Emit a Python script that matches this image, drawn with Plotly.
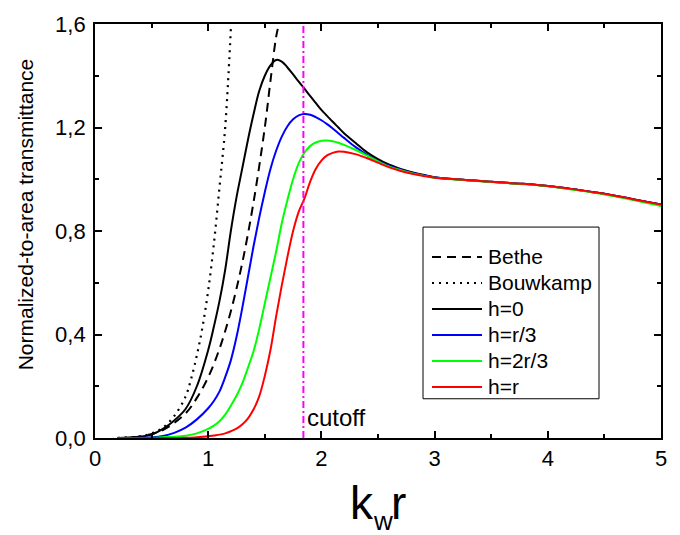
import plotly.graph_objects as go

# ---- data ----
x_bethe = [0.2, 0.4, 0.6, 0.8, 0.9, 1.0, 1.1, 1.2, 1.3, 1.4, 1.5, 1.55, 1.6, 1.625]
y_bethe = [0.0004, 0.006, 0.031, 0.095, 0.155, 0.235, 0.345, 0.49, 0.675, 0.91, 1.20, 1.38, 1.55, 1.60]

x_bouw = [0.2, 0.3, 0.4, 0.5, 0.6, 0.7, 0.8, 0.85, 0.9, 0.95, 1.0, 1.05, 1.1, 1.15, 1.2]
y_bouw = [0.0005, 0.002, 0.006, 0.018, 0.040, 0.085, 0.16, 0.23, 0.32, 0.43, 0.57, 0.75, 0.97, 1.20, 1.58]

x_h = [0.2, 0.3, 0.4, 0.5, 0.6, 0.7, 0.8, 0.9, 1.0, 1.05, 1.1, 1.15, 1.2, 1.25, 1.3, 1.35, 1.4, 1.45,
       1.5, 1.55, 1.6, 1.65, 1.7, 1.75, 1.8, 1.85, 1.9, 1.95, 2.0, 2.05, 2.1, 2.15, 2.2, 2.3, 2.4, 2.5,
       2.6, 2.7, 2.8, 2.9, 3.0, 3.25, 3.5, 3.75, 4.0, 4.25, 4.5, 4.75, 5.0]

y_h0 = [0.000, 0.002, 0.005, 0.013, 0.035, 0.068, 0.112, 0.20, 0.34, 0.43, 0.53, 0.65, 0.80, 0.93, 1.04,
        1.15, 1.25, 1.34, 1.40, 1.44, 1.461, 1.455, 1.432, 1.405, 1.377, 1.35, 1.322, 1.295, 1.268,
        1.245, 1.222, 1.20, 1.178, 1.141, 1.105, 1.078, 1.056, 1.040, 1.027, 1.017, 1.008, 0.998,
        0.990, 0.983, 0.974, 0.960, 0.944, 0.923, 0.902]

y_hr3 = [0.000, 0.000, 0.001, 0.003, 0.008, 0.020, 0.040, 0.072, 0.115, 0.143, 0.18, 0.235, 0.30, 0.39,
         0.50, 0.62, 0.74, 0.85, 0.95, 1.04, 1.11, 1.165, 1.205, 1.232, 1.247, 1.252, 1.249, 1.24,
         1.228, 1.213, 1.196, 1.178, 1.16, 1.125, 1.095, 1.070, 1.051, 1.037, 1.025, 1.016, 1.008,
         0.998, 0.990, 0.983, 0.974, 0.960, 0.944, 0.923, 0.902]

y_h2r3 = [0.000, 0.000, 0.000, 0.001, 0.003, 0.005, 0.009, 0.018, 0.035, 0.048, 0.065, 0.09, 0.125, 0.163,
          0.21, 0.27, 0.334, 0.42, 0.52, 0.62, 0.72, 0.83, 0.92, 1.00, 1.062, 1.103, 1.128, 1.142,
          1.149, 1.150, 1.147, 1.141, 1.133, 1.114, 1.092, 1.069, 1.049, 1.035, 1.023, 1.014, 1.006,
          0.997, 0.989, 0.982, 0.973, 0.958, 0.941, 0.920, 0.897]

y_hr = [0.000, 0.000, 0.000, 0.000, 0.000, 0.000, 0.001, 0.003, 0.007, 0.010, 0.013, 0.018, 0.026, 0.036,
        0.052, 0.075, 0.11, 0.16, 0.24, 0.34, 0.47, 0.59, 0.70, 0.80, 0.875, 0.925, 0.99, 1.04,
        1.072, 1.092, 1.102, 1.107, 1.106, 1.097, 1.082, 1.064, 1.046, 1.032, 1.021, 1.013, 1.006,
        0.998, 0.990, 0.983, 0.974, 0.960, 0.944, 0.923, 0.902]

cutoff_x = 1.841

x_ticks = [0, 1, 2, 3, 4, 5]
y_ticks = [0.0, 0.4, 0.8, 1.2, 1.6]

FONT = "Liberation Sans, Arial, sans-serif"

# plot area in pixels (for legend / title placement in paper coordinates)
L, R, T, B = 95, 661, 16, 438
def px(xp):
    return (xp - L) / (R - L)
def py(yp):
    return (B - yp) / (B - T)

series = [
    ("Bethe", x_bethe, y_bethe, "black", "9px,6px", 2.0),
    ("Bouwkamp", x_bouw, y_bouw, "black", "2px,5px", 2.2),
    ("h=0", x_h, y_h0, "black", "solid", 2.0),
    ("h=r/3", x_h, y_hr3, "#0000FF", "solid", 2.0),
    ("h=2r/3", x_h, y_h2r3, "#00FF00", "solid", 2.0),
    ("h=r", x_h, y_hr, "#FF0000", "solid", 2.0),
]

fig = go.Figure()
for name, xs, ys, col, dash, w in series:
    fig.add_trace(go.Scatter(x=xs, y=ys, mode="lines", name=name, showlegend=False,
                             line=dict(color=col, width=w, dash=dash, shape="spline")))

# cutoff line + label
fig.add_shape(type="line", x0=cutoff_x, x1=cutoff_x, y0=0, y1=1.6, xref="x", yref="y",
              line=dict(color="#FF00FF", width=2, dash="7px,3px,2px,3px"))
fig.add_annotation(x=cutoff_x, y=0, xref="x", yref="y", text="cutoff", showarrow=False,
                   xanchor="left", yanchor="bottom", xshift=2, yshift=5,
                   font=dict(family=FONT, size=24, color="black"))

# legend drawn as a framed box
fig.add_shape(type="rect", xref="paper", yref="paper", x0=px(423), x1=px(599), y0=py(398), y1=py(223),
              line=dict(color="black", width=1), fillcolor="white", layer="above")
leg_y0, leg_dy = 253.5, 26.5
for i, (name, xs, ys, col, dash, w) in enumerate(series):
    yy = py(leg_y0 + i * leg_dy)
    fig.add_shape(type="line", xref="paper", yref="paper", x0=px(432), x1=px(482), y0=yy, y1=yy,
                  line=dict(color=col, width=w, dash=dash), layer="above")
    fig.add_annotation(x=px(486), y=yy, xref="paper", yref="paper", text=name, showarrow=False,
                       xanchor="left", yanchor="middle",
                       font=dict(family=FONT, size=21, color="black"))

# axis titles
fig.add_annotation(x=px(348), y=py(504), xref="paper", yref="paper", text="k", showarrow=False,
                   xanchor="left", yanchor="middle", font=dict(family=FONT, size=46, color="black"))
fig.add_annotation(x=px(371), y=py(523), xref="paper", yref="paper", text="w", showarrow=False,
                   xanchor="left", yanchor="middle", font=dict(family=FONT, size=26, color="black"))
fig.add_annotation(x=px(389), y=py(504), xref="paper", yref="paper", text="r", showarrow=False,
                   xanchor="left", yanchor="middle", font=dict(family=FONT, size=46, color="black"))
fig.add_annotation(x=px(25), y=py(210), xref="paper", yref="paper",
                   text="Normalized-to-area transmittance", textangle=-90, showarrow=False,
                   xanchor="center", yanchor="middle",
                   font=dict(family=FONT, size=21, color="black"))

axis_common = dict(showgrid=False, zeroline=False, showline=True, linecolor="black", linewidth=1.8,
                   mirror="ticks", ticks="inside", ticklen=7, tickwidth=1.5, tickcolor="black",
                   tickfont=dict(family=FONT, size=22, color="black"))

fig.update_xaxes(range=[0, 5], tickvals=x_ticks, ticktext=[str(v) for v in x_ticks],
                 minor=dict(dtick=0.5, ticks="inside", ticklen=4, tickwidth=1.5, tickcolor="black"),
                 **axis_common)
fig.update_yaxes(range=[0, 1.6], tickvals=y_ticks, ticktext=[f"{v:.1f}".replace(".", ",") for v in y_ticks],
                 minor=dict(dtick=0.2, ticks="inside", ticklen=4, tickwidth=1.5, tickcolor="black"),
                 ticklabelstandoff=3,
                 **axis_common)

fig.update_layout(
    width=680, height=535,
    margin=dict(l=L, r=680 - R, t=T, b=535 - B),
    paper_bgcolor="white", plot_bgcolor="white",
    showlegend=False,
    font=dict(family=FONT),
)

fig.write_html("out.html")
